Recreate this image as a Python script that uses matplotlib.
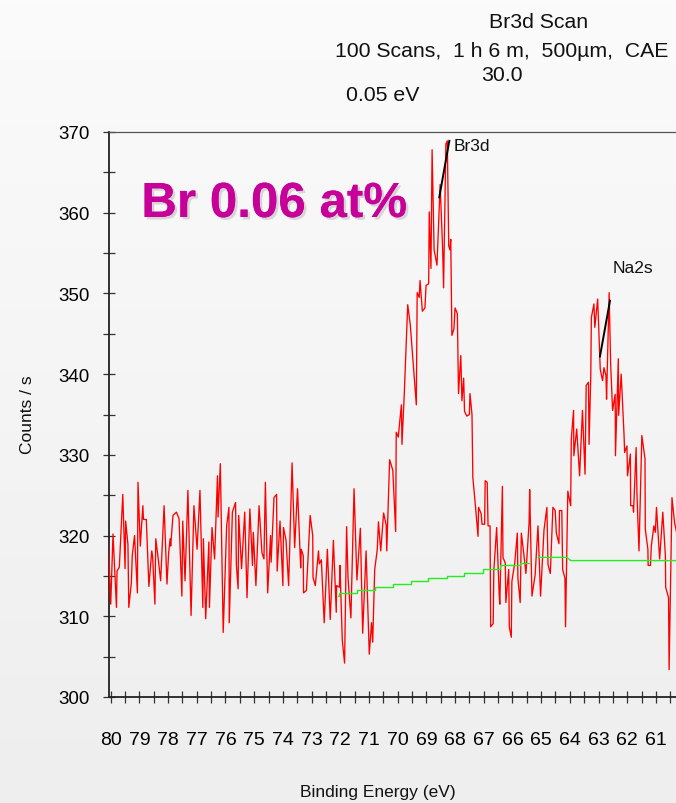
import numpy as np
import matplotlib
matplotlib.use("Agg")
import matplotlib.pyplot as plt
from matplotlib import font_manager, patheffects
from matplotlib.colors import LinearSegmentedColormap
from matplotlib.ticker import MultipleLocator

# ---------------------------------------------------------------------------
# Br3d / Na2s region spectrum (binding energy in eV, intensity in counts/s)
# ---------------------------------------------------------------------------
be_low = [80.09, 80.00, 79.92, 79.80, 79.78, 79.70, 79.58, 79.50, 79.48, 79.40,
          79.37, 79.28, 79.25, 79.17, 79.07, 79.05, 78.97, 78.88, 78.86, 78.76,
          78.67, 78.57, 78.54, 78.46, 78.43, 78.35, 78.26, 78.14, 78.04, 77.98,
          77.93, 77.91, 77.83, 77.71, 77.62, 77.52, 77.49, 77.41, 77.31, 77.20,
          77.10, 76.99, 76.89, 76.79, 76.77, 76.69, 76.58, 76.56, 76.47, 76.38,
          76.28, 76.26, 76.18, 76.08, 75.96, 75.88, 75.87, 75.76, 75.65, 75.62,
          75.56, 75.54, 75.44, 75.33, 75.25, 75.15, 75.06, 75.03, 74.94, 74.83,
          74.73, 74.66, 74.61, 74.53, 74.43, 74.41, 74.31, 74.22, 74.20, 74.10,
          74.00, 73.98, 73.89, 73.80, 73.68, 73.59, 73.49, 73.38, 73.36, 73.29,
          73.28, 73.18, 73.05, 72.96, 72.95, 72.87, 72.76, 72.73, 72.66, 72.56,
          72.45, 72.35, 72.24, 72.14, 72.13, 72.03, 72.01]
cps_low = [320.2, 311.5, 320.2, 311.1, 315.6, 316.1, 325.1, 315.9, 321.8, 318.9,
           311.1, 314.2, 317.5, 320.0, 312.9, 326.6, 318.7, 323.7, 322.0, 322.0,
           313.7, 318.1, 317.4, 311.5, 319.6, 317.3, 314.4, 323.7, 314.0, 317.9,
           319.6, 318.7, 322.5, 322.9, 322.1, 312.5, 321.8, 314.4, 325.6, 310.1,
           323.7, 318.3, 325.6, 311.1, 319.6, 309.7, 319.2, 311.1, 321.0, 317.1,
           327.4, 322.3, 328.9, 308.0, 321.2, 323.5, 309.2, 322.9, 324.1, 316.3,
           313.4, 322.5, 315.9, 322.9, 312.3, 323.3, 316.3, 320.4, 313.8, 323.7,
           317.9, 317.1, 326.6, 312.9, 320.0, 316.7, 324.7, 325.1, 315.6, 321.8,
           313.8, 321.0, 319.4, 313.8, 329.0, 318.5, 325.8, 316.0, 318.3, 317.5,
           312.9, 313.2, 322.5, 320.0, 314.8, 313.8, 318.1, 316.5, 317.0, 309.2,
           318.3, 309.6, 319.4, 310.5, 313.8, 313.6, 316.3]

be_br = [71.93, 71.85, 71.78, 71.73, 71.63, 71.52, 71.42, 71.30, 71.22, 71.10,
         70.99, 70.91, 70.87, 70.80, 70.71, 70.67, 70.59, 70.49, 70.40, 70.38,
         70.28, 70.17, 70.07, 70.05, 69.98, 69.87, 69.85, 69.77, 69.65, 69.56,
         69.45, 69.35, 69.32, 69.25, 69.22, 69.14, 69.05, 69.01, 68.92, 68.90,
         68.84, 68.80, 68.73, 68.63, 68.52, 68.43, 68.40, 68.32, 68.27, 68.22,
         68.18, 68.15, 68.11, 68.04, 68.00, 67.92, 67.88, 67.80, 67.76, 67.70,
         67.67, 67.59, 67.50, 67.48, 67.41, 67.38, 67.28, 67.20, 67.18, 67.09,
         67.06, 66.97, 66.95, 66.88, 66.85, 66.78, 66.76, 66.67, 66.65, 66.55,
         66.46, 66.44, 66.35, 66.33, 66.25, 66.23, 66.13, 66.11, 66.04, 66.02,
         65.92, 65.83, 65.81, 65.73, 65.69, 65.61, 65.53, 65.42, 65.40, 65.32,
         65.21, 65.11, 65.02, 64.90, 64.80, 64.76, 64.68, 64.59, 64.51, 64.47,
         64.38, 64.36, 64.28, 64.25, 64.17, 64.15, 64.07]
cps_br = [307.0, 304.2, 321.1, 314.7, 309.8, 325.8, 314.5, 320.9, 307.9, 318.1,
          305.3, 309.2, 306.8, 315.8, 318.3, 321.7, 318.1, 322.8, 321.3, 318.1,
          329.4, 328.1, 320.5, 332.8, 332.2, 336.2, 331.3, 337.5, 348.6, 346.1,
          340.9, 336.2, 350.1, 349.5, 351.6, 347.8, 348.2, 351.0, 351.2, 360.1,
          353.1, 367.8, 355.4, 353.5, 363.5, 355.2, 350.7, 368.5, 368.9, 355.9,
          355.4, 356.7, 344.8, 345.6, 348.2, 347.5, 337.6, 342.3, 336.7, 339.5,
          335.4, 334.8, 335.0, 337.6, 335.0, 327.2, 323.3, 319.9, 323.5, 322.7,
          321.4, 321.4, 326.8, 326.6, 321.2, 321.2, 308.7, 309.1, 315.6, 321.0,
          312.5, 311.5, 326.1, 317.3, 316.6, 311.7, 315.8, 308.7, 307.4, 314.3,
          316.6, 320.3, 314.7, 311.7, 320.3, 317.9, 315.3, 321.6, 325.7, 312.5,
          315.1, 321.2, 312.5, 320.7, 323.5, 316.4, 315.3, 323.5, 323.1, 320.3,
          319.0, 323.1, 323.1, 315.8, 314.7, 308.7, 325.5]

be_na = [63.97, 63.95, 63.87, 63.86, 63.76, 63.66, 63.56, 63.47, 63.43, 63.35,
         63.33, 63.27, 63.25, 63.16, 63.13, 63.03, 62.96, 62.94, 62.86, 62.81,
         62.74, 62.72, 62.63, 62.58, 62.51, 62.42, 62.41, 62.31, 62.30, 62.21,
         62.11, 62.09, 62.01, 61.99, 61.89, 61.88, 61.80, 61.78, 61.69, 61.66,
         61.59, 61.49, 61.38, 61.37, 61.28, 61.27, 61.19, 61.16, 61.07, 61.02,
         60.98, 60.87, 60.76, 60.67, 60.66, 60.56, 60.54, 60.44, 60.35, 60.28]
cps_na = [323.7, 331.9, 335.5, 329.9, 333.2, 327.4, 335.5, 327.6, 338.6, 339.0,
          331.3, 339.8, 347.0, 348.7, 345.8, 349.3, 342.3, 340.6, 339.2, 340.8,
          339.8, 336.9, 350.1, 341.5, 335.5, 337.5, 329.9, 341.9, 334.9, 340.0,
          332.4, 330.3, 331.1, 327.4, 330.1, 323.7, 323.7, 322.9, 330.9, 325.1,
          318.1, 332.4, 329.5, 320.8, 318.3, 316.3, 316.3, 318.7, 321.2, 320.4,
          323.5, 317.1, 322.9, 317.5, 313.6, 312.3, 303.4, 324.7, 321.6, 320.4]

# Fitted backgrounds under the two peaks
bg_br_be = [72.09, 72.05, 71.43, 70.79, 70.17, 69.55, 68.93, 68.29, 67.68,
            67.02, 66.44, 65.75, 65.41]
bg_br_cps = [312.5, 312.9, 313.3, 313.6, 314.0, 314.4, 314.7, 315.0, 315.4,
             315.8, 316.3, 316.6, 316.6]
bg_na_be = [65.10, 64.11, 63.97, 60.25]
bg_na_cps = [317.3, 317.3, 316.9, 316.9]

# Peak labels: name, marker-line start/end, label position
peak_names = ["Br3d", "Na2s"]
peak_line_be = [(68.55, 68.20), (62.95, 62.60)]
peak_line_cps = [(361.9, 368.9), (342.2, 349.1)]
peak_text_pos = [(68.06, 368.3, "left"), (61.81, 353.2, "center")]

header_lines = ["Br3d Scan", "100 Scans,  1 h 6 m,  500µm,  CAE", "30.0", "0.05 eV"]
x_ticks = list(range(61, 81))
y_ticks = list(range(300, 371, 10))

# ---------------------------------------------------------------------------
plt.rcParams["font.family"] = ["Liberation Sans", "DejaVu Sans"]
_installed = {f.name for f in font_manager.fontManager.ttflist}
if "Liberation Sans Narrow" in _installed:
    tick_family, xtick_size, ytick_size = "Liberation Sans Narrow", 15.5, 14.0
else:
    tick_family, xtick_size, ytick_size = "Liberation Sans", 14.0, 13.5

W, H = 676, 804
fig = plt.figure(figsize=(W / 100, H / 100), dpi=100)

# soft light-grey backdrop, slightly lighter at the top
bg_ax = fig.add_axes([0, 0, 1, 1], zorder=-10)
fade = LinearSegmentedColormap.from_list("fade", ["#fbfbfb", "#eeeeee"])
bg_ax.imshow(np.linspace(0, 1, 256)[:, None], cmap=fade, aspect="auto",
             extent=[0, 1, 0, 1], origin="upper")
bg_ax.axis("off")

left_px, right_px, top_px, bot_px = 109, 676, 133, 698
ax = fig.add_axes([left_px / W, (H - bot_px) / H,
                   (right_px - left_px) / W, (bot_px - top_px) / H])
ax.patch.set_alpha(0)

be = np.concatenate([be_low, be_br, be_na])
cps = np.concatenate([cps_low, cps_br, cps_na])
ax.plot(be, cps, color="#ff0000", lw=0.95, zorder=3)

ax.step(bg_br_be, bg_br_cps, where="post", color="#22ee22", lw=1.0, zorder=4)
ax.plot(bg_na_be, bg_na_cps, color="#22ee22", lw=1.0, zorder=4)

for name, lx, ly, (tx, ty, ha) in zip(peak_names, peak_line_be, peak_line_cps,
                                      peak_text_pos):
    ax.plot(lx, ly, color="black", lw=1.4, zorder=5, clip_on=False)
    ax.text(tx, ty, name, ha=ha, va="center", fontsize=12.5, color="#111111",
            zorder=6)

ax.set_xlim(80.06, 60.30)
ax.set_ylim(300, 370)

ax.xaxis.set_major_locator(plt.FixedLocator(x_ticks))
ax.xaxis.set_minor_locator(MultipleLocator(0.5))
ax.yaxis.set_major_locator(plt.FixedLocator(y_ticks))
ax.yaxis.set_minor_locator(MultipleLocator(5))
ax.tick_params(axis="both", which="both", direction="inout", length=8.5,
               width=0.9, color="#333333")
ax.tick_params(axis="x", which="major", pad=20.5, labelsize=xtick_size,
               labelfontfamily=tick_family)
ax.tick_params(axis="y", which="major", pad=9.5, labelsize=ytick_size,
               labelfontfamily=tick_family)

for side in ("left", "bottom"):
    ax.spines[side].set_color("#222222")
    ax.spines[side].set_linewidth(1.3)
ax.spines["top"].set_color("#555555")
ax.spines["top"].set_linewidth(0.9)
ax.spines["right"].set_visible(False)

ax.text(0.057, 0.8496, "Br 0.06 at%", transform=ax.transAxes,
        ha="left", va="baseline", fontsize=35.5, fontweight="bold",
        color="#c8009a", zorder=7,
        path_effects=[patheffects.withSimplePatchShadow(
            offset=(1.8, -1.8), shadow_rgbFace="#888888", alpha=0.3),
            patheffects.Normal()])

# header block
header_pos = [(539, 28), (501.5, 57), (502, 81), (383, 101)]
for txt, (hx, hy) in zip(header_lines, header_pos):
    fig.text(hx / W, (H - hy) / H, txt, ha="center", va="baseline",
             fontsize=15.3, color="#111111")

fig.text(378 / W, (H - 797) / H, "Binding Energy (eV)", ha="center",
         va="baseline", fontsize=12.5, color="#111111")
fig.text(27 / W, (H - 415) / H, "Counts / s", ha="center", va="center",
         rotation=90, fontsize=12.5, color="#111111")

fig.savefig("out.png", dpi=100, facecolor="#f5f5f5")
